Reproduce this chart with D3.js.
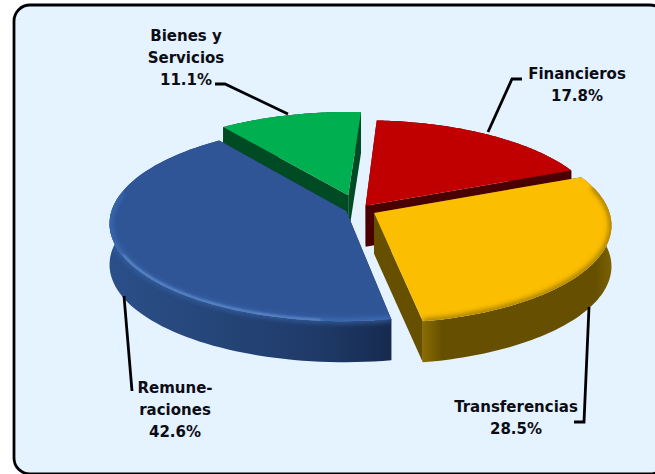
<!DOCTYPE html>
<html><head><meta charset="utf-8">
<script src="https://cdn.jsdelivr.net/npm/d3@7"></script>
<style>html,body{margin:0;padding:0;background:#fff;overflow:hidden}svg{display:block}text{font-family:"DejaVu Sans",sans-serif;font-weight:700;font-size:15px;fill:#0c0c14}</style>
</head><body><svg id="c" width="655" height="474"></svg>
<script>
const categories = ["Financieros","Transferencias","Remuneraciones","Bienes y Servicios"];
const shares = [17.8,28.5,42.6,11.1];
const labelLines = [["Financieros","17.8%"],["Transferencias","28.5%"],["Remune-","raciones","42.6%"],["Bienes y","Servicios","11.1%"]];
const topColors = ["#C00000","#FBBE00","#2F5597","#00B050"];
const wallColors = ["#4A0000","#665000","#223F70","#004B23"];
const explodeX = [0.024,0.06,-0.058,-0.051];
const explodeY = [0.024,-0.052,-0.035,0.135];
const drawOrder = [3,0,2,1];
const labelAnchors = [[577,79],[516,412],[175,393],[186,41]];
const leaders = [[[488,132],[512,79],[522,79]],[[589,307],[584,422],[574,422]],[[124,296],[132,391]],[[288,114],[225,84],[215,84]]];

const cx=360, cy=208, R=234, HH=96, k=0.118, depth=41;
const svg=d3.select("#c");
const defs=svg.append("defs");
const sx=d3.scaleLinear().domain([-1,1]).range([cx-R,cx+R]);
const sy=d3.scaleLinear().domain([-1,1]).range([cy+HH,cy-HH]);
function proj(u,v,z){const w=1+k*v;return [sx(u/w), sy(v/w)+(z||0)];}

svg.append("rect").attr("x",14).attr("y",5).attr("width",652).attr("height",469).attr("rx",16)
  .attr("fill","#E5F2FF").attr("stroke","#000").attr("stroke-width",2.8);

const blur=(id,s)=>defs.append("filter").attr("id",id).attr("x","-20%").attr("y","-20%").attr("width","140%").attr("height","140%")
  .append("feGaussianBlur").attr("stdDeviation",s);
blur("soft",2.6); blur("fine",1.1);

const start=0.056;
const arcs=d3.pie().sort(null).value(d=>d).startAngle(start).endAngle(start+2*Math.PI)(shares);
const line=d3.line();

wallColors.forEach((c,i)=>{
  const g=defs.append("linearGradient").attr("id","wall"+i).attr("gradientUnits","userSpaceOnUse")
    .attr("x1",i==2?110:423).attr("x2",i==2?388:611).attr("y1",0).attr("y2",0);
  const stops = i==2 ? [[0,"#2B4F8A"],[0.35,"#254679"],[0.75,"#1F3A69"],[1,"#172B50"]]
              : i==1 ? [[0,"#8A6C00"],[0.1,"#665000"],[0.92,"#665000"],[1,"#7A6000"]]
              : [[0,c],[1,c]];
  stops.forEach(s=>g.append("stop").attr("offset",s[0]).attr("stop-color",s[1]));
});

drawOrder.forEach(i=>{
  const a=arcs[i], ox=explodeX[i], oy=explodeY[i];
  const at=(th,r,z)=>proj(ox+r*Math.sin(th), oy+r*Math.cos(th), z);
  const n=80, th=d3.range(n+1).map(j=>a.startAngle+(a.endAngle-a.startAngle)*j/n);
  const rim=th.map(t=>at(t,1,0)), rimLow=th.map(t=>at(t,1,depth));
  const apex=at(0,0,0), apexLow=at(0,0,depth);
  const g=svg.append("g");
  g.append("path").attr("d",line([apex,rim[0],rimLow[0],apexLow])+"Z").attr("fill",wallColors[i]);
  g.append("path").attr("d",line([apex,rim[n],rimLow[n],apexLow])+"Z").attr("fill",wallColors[i]);
  const wallD=line(rim.concat(rimLow.slice().reverse()))+"Z";
  g.append("path").attr("d",wallD).attr("fill",`url(#wall${i})`);
  const topD=line([apex].concat(rim))+"Z";
  g.append("path").attr("d",topD).attr("fill",topColors[i]);
  defs.append("clipPath").attr("id","clipT"+i).append("path").attr("d",topD);
  defs.append("clipPath").attr("id","clipW"+i).append("path").attr("d",wallD);
  const front=th.filter(t=>Math.cos(t)<0.3).map(t=>at(t,1,0));
  if(i==1){
    g.append("path").attr("d",line(front)).attr("fill","none").attr("stroke","#9C7700")
     .attr("stroke-width",5).attr("filter","url(#soft)").attr("clip-path","url(#clipT1)");
  }
  if(i==2){
    const edge=line(th.filter(t=>Math.sin(t)<0.2 && Math.cos(t)<0.2).map(t=>at(t,1,0)));
    g.append("path").attr("d",edge).attr("fill","none").attr("stroke","#3F6FB8")
     .attr("stroke-width",5).attr("filter","url(#soft)").attr("clip-path","url(#clipT2)");
    g.append("path").attr("d",edge).attr("fill","none").attr("stroke","#3561A4")
     .attr("stroke-width",4).attr("filter","url(#soft)").attr("clip-path","url(#clipW2)");
    const streak=th.filter(t=>t>Math.PI*1.02 && t<Math.PI*1.36).map(t=>at(t,0.995,0));
    g.append("path").attr("d",line(streak)).attr("fill","none").attr("stroke","#6F98D6")
     .attr("stroke-width",1.6).attr("filter","url(#fine)").attr("clip-path","url(#clipT2)");
  }
});

leaders.forEach(p=>svg.append("path").attr("d",line(p)).attr("fill","none").attr("stroke","#000").attr("stroke-width",2.8));

labelLines.forEach((ls,i)=>{
  const t=svg.append("text").attr("text-anchor","middle");
  ls.forEach((s,j)=>t.append("tspan").attr("x",labelAnchors[i][0]).attr("y",labelAnchors[i][1]+j*22).text(s));
});
</script></body></html>
